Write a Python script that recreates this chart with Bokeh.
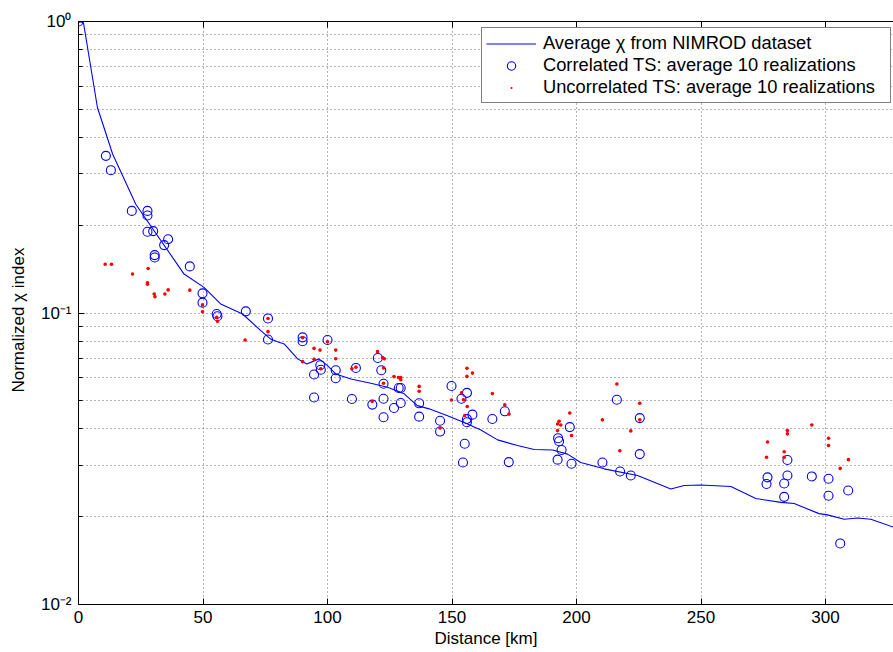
from bokeh.plotting import figure
from bokeh.models import (FixedTicker, LinearAxis, Legend, LegendItem, Range1d,
                          CustomJSTickFormatter)
from bokeh.embed import file_html
from bokeh.resources import INLINE

# ---- data ----
nimrod_dist = [0, 2.0, 7.6, 13.7, 23.0, 42.4, 50.4, 57.1, 65.9, 73.2, 77.2, 79.9, 82.6, 88.0, 91.7,
               96.6, 100.0, 103.3, 109.4, 117.4, 124.1, 130.8, 136.1, 140.8, 148.2, 154.9, 161.6,
               168.3, 176.3, 183.0, 190.4, 196.4, 201.7, 211.1, 224.5, 237.9, 243.2, 249.9, 262.0,
               272.0, 282.1, 287.4, 297.4, 300.8, 307.5, 312.9, 318.2, 327.5]
nimrod_chi = [1.0, 0.99, 0.507, 0.351, 0.236, 0.136, 0.1224, 0.1074, 0.0992, 0.0870, 0.0814, 0.0797,
              0.0783, 0.0696, 0.0668, 0.0696, 0.0660, 0.0618, 0.0594, 0.0574, 0.0556, 0.0528, 0.0481,
              0.0469, 0.0444, 0.0421, 0.0397, 0.0367, 0.0351, 0.0340, 0.0339, 0.0328, 0.0307, 0.0292,
              0.0277, 0.0249, 0.0256, 0.0257, 0.0254, 0.0231, 0.0224, 0.0222, 0.0205, 0.0203, 0.0196,
              0.0198, 0.0196, 0.0184]

corr_dist = [0, 11.0, 13.0, 21.4, 27.7, 27.7, 27.7, 30.0, 34.4, 36.0,
             30.6, 30.6, 44.7, 49.8, 49.8, 55.5, 55.8, 67.2, 76.1, 76.1,
             90.0, 90.0, 100.0, 97.1, 97.3, 94.6, 103.3, 103.3, 94.6, 109.8,
             111.4, 118.0, 120.2, 121.6, 122.5, 122.5, 122.5, 126.7, 128.6, 129.4,
             129.4, 136.8, 136.8, 145.2, 145.2, 149.8, 153.8, 156.0, 158.2, 156.0,
             156.0, 155.1, 154.4, 166.2, 171.2, 172.8, 197.3, 192.6, 193.0, 194.0,
             192.4, 198.0, 210.4, 216.2, 225.4, 225.4, 217.5, 221.8, 276.7, 276.3,
             284.7, 284.7, 283.4, 283.4, 294.5, 301.2, 301.2, 309.1, 305.9]
corr_chi = [1.0, 0.346, 0.309, 0.224, 0.224, 0.216, 0.190, 0.191, 0.171, 0.179,
            0.158, 0.155, 0.1445, 0.1168, 0.1085, 0.0992, 0.0975, 0.1013, 0.0958, 0.0811,
            0.0825, 0.0800, 0.0808, 0.0662, 0.0639, 0.0615, 0.0636, 0.0597, 0.0513, 0.0507,
            0.0648, 0.0485, 0.0701, 0.0636, 0.0572, 0.0508, 0.0439, 0.0472, 0.0553, 0.0553,
            0.0491, 0.0490, 0.0441, 0.0427, 0.0392, 0.0562, 0.0508, 0.0532, 0.0448, 0.0433,
            0.0422, 0.0356, 0.0307, 0.0433, 0.0460, 0.0308, 0.0406, 0.0372, 0.0363, 0.0339,
            0.0314, 0.0304, 0.0307, 0.0504, 0.0436, 0.0328, 0.0286, 0.0277, 0.0273, 0.0259,
            0.0313, 0.0277, 0.0260, 0.0234, 0.0275, 0.0270, 0.0236, 0.0246, 0.0162]

uncorr_dist = [0, 10.7, 13.25, 21.7, 27.95, 27.7, 27.7, 30.4, 30.7, 34.7,
               36.0, 44.7, 49.8, 49.8, 55.5, 55.8, 66.9, 76.1, 76.1, 90.0,
               90.0, 100.0, 94.6, 97.0, 94.6, 103.3, 103.3, 97.3, 109.8, 111.4,
               120.1, 122.1, 122.8, 122.5, 122.5, 117.9, 126.7, 128.5, 129.4, 129.4,
               136.8, 136.8, 145.2, 149.8, 153.8, 154.6, 156.0, 156.0, 158.2, 156.1,
               155.1, 166.2, 171.2, 172.9, 197.3, 192.4, 193.7, 193.0, 192.4, 198.0,
               210.4, 216.2, 225.4, 225.4, 221.8, 217.4, 276.7, 276.3, 284.7, 284.7,
               283.4, 283.4, 294.5, 301.2, 301.2, 309.2, 305.9]
uncorr_chi = [1.0, 0.147, 0.147, 0.136, 0.1422, 0.127, 0.1256, 0.1162, 0.1137, 0.1162,
              0.120, 0.1198, 0.1066, 0.1010, 0.0966, 0.0936, 0.0808, 0.0958, 0.0863, 0.0823,
              0.0681, 0.0797, 0.0756, 0.0746, 0.0694, 0.0746, 0.0697, 0.0644, 0.0644, 0.0652,
              0.0737, 0.0704, 0.0697, 0.0648, 0.0574, 0.0497, 0.0605, 0.0601, 0.0601, 0.0590,
              0.0560, 0.0539, 0.0403, 0.0503, 0.0532, 0.0504, 0.0646, 0.0606, 0.0622, 0.0478,
              0.0445, 0.0529, 0.0484, 0.0450, 0.0454, 0.0416, 0.0413, 0.0425, 0.0395, 0.0380,
              0.0430, 0.0571, 0.0490, 0.0430, 0.0394, 0.0337, 0.0361, 0.0320, 0.0395, 0.0385,
              0.0334, 0.0320, 0.0413, 0.0372, 0.0351, 0.0314, 0.0293]

x_ticks = [0, 50, 100, 150, 200, 250, 300]
y_ticks = [0.01, 0.1, 1.0]

legend_labels = ["Average \u03c7 from NIMROD dataset",
                 "Correlated TS: average 10 realizations",
                 "Uncorrelated TS: average 10 realizations"]
x_label = "Distance [km]"
y_label = "Normalized \u03c7 index"

FONT = "Liberation Sans"
GRID_COLOR = "#000000"

p = figure(width=893, height=652, y_axis_type="log",
           x_range=Range1d(0, 327.3), y_range=Range1d(0.01, 1.0),
           output_backend="svg", toolbar_location=None,
           min_border_left=78, min_border_right=0, min_border_top=21, min_border_bottom=48)
p.outline_line_color = None
p.background_fill_color = "white"
p.border_fill_color = "white"

# x axis
p.xaxis.ticker = FixedTicker(ticks=x_ticks)
p.xaxis.major_tick_in = 6
p.xaxis.major_tick_out = 0
p.xaxis.minor_tick_in = 0
p.xaxis.minor_tick_out = 0
p.xaxis.axis_line_color = "black"
p.xaxis.major_tick_line_color = "black"
p.xaxis.major_label_text_font = FONT
p.xaxis.major_label_text_font_size = "17px"
p.xaxis.major_label_text_color = "black"
p.xaxis.major_label_standoff = 6
p.xaxis.axis_label = x_label
p.xaxis.axis_label_text_font = FONT
p.xaxis.axis_label_text_font_size = "17px"
p.xaxis.axis_label_text_font_style = "normal"
p.xaxis.axis_label_text_color = "black"
p.xaxis.axis_label_standoff = 3

# y axis (log) with 10^n labels
minor = [m * 10.0 ** e for e in (-2, -1) for m in range(2, 10)]
p.yaxis.ticker = FixedTicker(ticks=y_ticks, minor_ticks=minor)
p.yaxis.formatter = CustomJSTickFormatter(code="""
    const sup = {"-": "\u207b", "0": "\u2070", "1": "\u00b9", "2": "\u00b2"};
    const e = Math.round(Math.log10(tick));
    return "10" + String(e).split("").map(c => sup[c]).join("");
""")
p.yaxis.major_tick_in = 6
p.yaxis.major_tick_out = 0
p.yaxis.minor_tick_in = 4
p.yaxis.minor_tick_out = 0
p.yaxis.axis_line_color = "black"
p.yaxis.major_tick_line_color = "black"
p.yaxis.minor_tick_line_color = "black"
p.yaxis.major_label_text_font = FONT
p.yaxis.major_label_text_font_size = "17px"
p.yaxis.major_label_text_color = "black"
p.yaxis.major_label_standoff = 7
p.yaxis.axis_label = y_label + "\u00a0\u00a0\u00a0"
p.yaxis.axis_label_text_font = FONT
p.yaxis.axis_label_text_font_size = "17px"
p.yaxis.axis_label_text_font_style = "normal"
p.yaxis.axis_label_text_color = "black"
p.yaxis.axis_label_standoff = 10

top = LinearAxis(ticker=FixedTicker(ticks=x_ticks), major_label_text_font_size="1px",
                 major_label_text_color=None, major_label_standoff=0,
                 major_tick_in=6, major_tick_out=0, minor_tick_in=0, minor_tick_out=0,
                 axis_line_color="black", major_tick_line_color="black")
p.add_layout(top, "above")

# grid
p.xgrid.grid_line_color = GRID_COLOR
p.xgrid.grid_line_alpha = 0.6
p.xgrid.grid_line_dash = "1 3"
p.ygrid.grid_line_color = GRID_COLOR
p.ygrid.grid_line_alpha = 0.6
p.ygrid.grid_line_dash = "1 3"
p.ygrid.minor_grid_line_color = GRID_COLOR
p.ygrid.minor_grid_line_alpha = 0.6
p.ygrid.minor_grid_line_dash = "1 3"

# data
r_line = p.line(nimrod_dist, nimrod_chi, line_color="#0000ff", line_width=1.1)
r_corr = p.scatter(corr_dist, corr_chi, marker="circle", size=9, fill_color=None,
                   line_color="#0000ff", line_width=1.1)
r_unc = p.scatter(uncorr_dist, uncorr_chi, marker="circle", size=3.6, fill_color="#ff0000",
                  line_color=None)
# same points drawn as tiny dots: gives the legend its small red dot
r_unc_leg = p.scatter(uncorr_dist, uncorr_chi, marker="dot", size=9, line_color="#ff0000",
                      fill_color="#ff0000", line_width=1.5)

legend = Legend(items=[LegendItem(label=legend_labels[0], renderers=[r_line]),
                       LegendItem(label=legend_labels[1], renderers=[r_corr]),
                       LegendItem(label=legend_labels[2], renderers=[r_unc_leg])],
                location=(403, 501))
legend.label_text_font = FONT
legend.label_text_font_size = "18.3px"
legend.label_text_color = "black"
legend.glyph_width = 50
legend.glyph_height = 21
legend.label_height = 21
legend.label_width = 343
legend.label_standoff = 7
legend.padding = 4
legend.spacing = -1
legend.margin = 0
legend.border_line_color = "black"
legend.border_line_width = 1
legend.background_fill_color = "white"
legend.background_fill_alpha = 1.0
p.add_layout(legend)

open("out.html", "w").write(file_html(p, INLINE))
